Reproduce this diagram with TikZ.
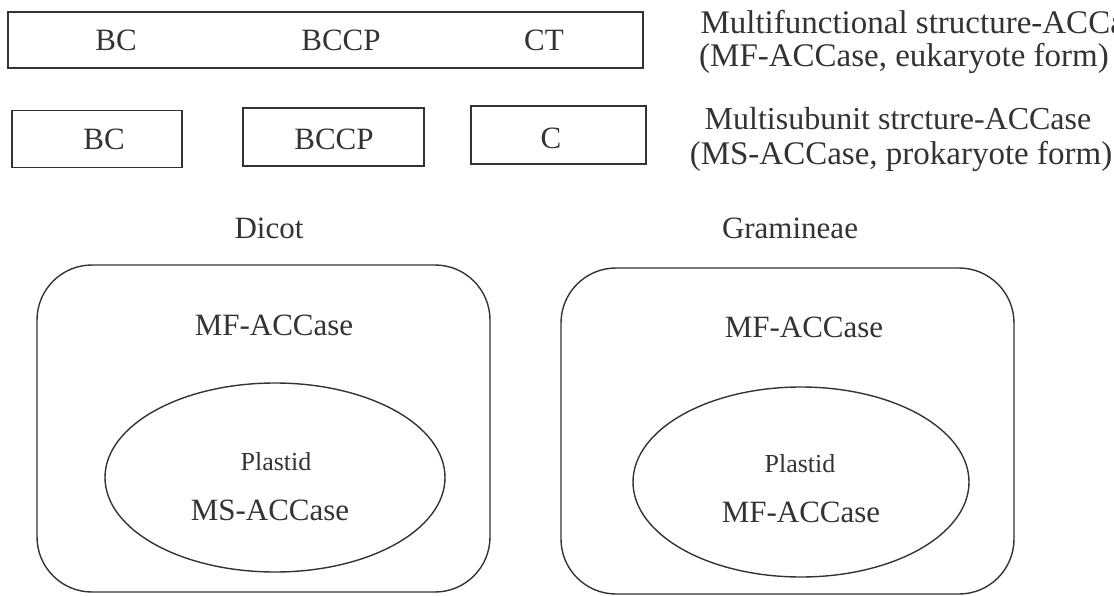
\documentclass[tikz,border=0pt]{standalone}
\usepackage{fontspec}
\setmainfont{Liberation Serif}
\usetikzlibrary{shapes.geometric}
\definecolor{ink}{HTML}{333333}
\begin{document}
\begin{tikzpicture}[x=1pt,y=-1pt,
  box/.style={draw=ink, line width=1.4pt, inner sep=0pt},
  big/.style={font=\fontsize{31}{36}\selectfont, text=ink},
  mid/.style={font=\fontsize{31}{36}\selectfont, text=ink},
  small/.style={font=\fontsize{26}{30}\selectfont, text=ink},
  desc/.style={font=\fontsize{33}{40}\selectfont, text=ink, align=center}]
\useasboundingbox (0,0) rectangle (1114,596);
% multifunctional row
\node[box, minimum width=635pt, minimum height=56pt] (mfbox) at (325.5,40) {};
\node[big] (mfbc) at (116,40) {BC};
\node[big] (mfbccp) at (341,40) {BCCP};
\node[big] (mfct) at (544,40) {CT};
% multisubunit row
\node[box, minimum width=170pt, minimum height=57pt] (msbc) at (97,139) {};
\node[big] (msbcl) at (104,139) {BC};
\node[box, minimum width=181pt, minimum height=58pt] (msbccp) at (333.5,137) {};
\node[big] (msbccpl) at (334,139) {BCCP};
\node[box, minimum width=175pt, minimum height=58pt] (msc) at (558.5,135) {};
\node[big] (mscl) at (551,138) {C};
% descriptions
\node[desc, anchor=west] (mfdesc1) at (697,22) {Multifunctional structure-ACCase};
\node[desc] (mfdesc2) at (904,58) {(MF-ACCase, eukaryote form)};
\node[desc, font=\fontsize{32}{40}\selectfont] (msdesc1) at (898,119) {Multisubunit strcture-ACCase};
\node[desc] (msdesc2) at (901,156) {(MS-ACCase, prokaryote form)};
% group titles
\node[mid] (dicot) at (269,228) {Dicot};
\node[mid] (gram) at (790,228) {Gramineae};
% dicot cell
\node[box, rounded corners=55pt, minimum width=453pt, minimum height=327pt] (dcell) at (263.5,428.5) {};
\node[mid] (dmf) at (274,325) {MF-ACCase};
\node[box, ellipse, minimum width=340pt, minimum height=189pt] (dplast) at (275,477.5) {};
\node[small] (dpl) at (276,462) {Plastid};
\node[mid] (dms) at (270,510) {MS-ACCase};
% gramineae cell
\node[box, rounded corners=55pt, minimum width=453pt, minimum height=326pt] (gcell) at (787.5,431) {};
\node[mid] (gmf) at (804,327) {MF-ACCase};
\node[box, ellipse, minimum width=336pt, minimum height=190pt] (gplast) at (801,482) {};
\node[small] (gpl) at (800,464) {Plastid};
\node[mid] (gms2) at (801,512) {MF-ACCase};
\end{tikzpicture}
\end{document}
